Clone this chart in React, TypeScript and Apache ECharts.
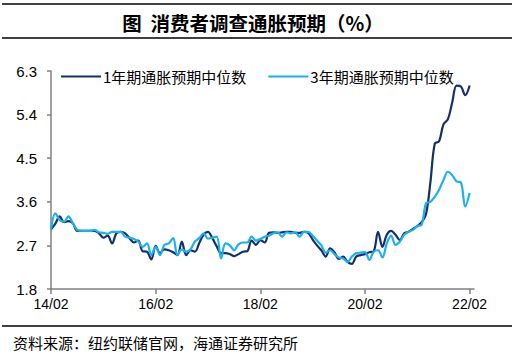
import React, { useEffect, useRef } from "react";
import * as echarts from "echarts";

const title = "图  消费者调查通胀预期（%）";
const source = "资料来源：纽约联储官网，海通证券研究所";
const seriesNames = ["1年期通胀预期中位数", "3年期通胀预期中位数"];

// monthly categories 2014/02 .. 2022/03 (last has no data)
const categories: string[] = [];
for (let y = 14; y <= 22; y++) {
  for (let m = 1; m <= 12; m++) {
    if (y === 14 && m < 2) continue;
    if (y === 22 && m > 3) continue;
    categories.push(`${y}/${String(m).padStart(2, "0")}`);
  }
}

const oneYear = [
  3.03, 3.15, 3.3, 3.18, 3.2, 3.16, 3.0, 3.0, 3.0, 3.0, 3.0, 2.95,
  2.86, 2.9, 2.74, 2.95, 2.98, 2.95, 2.85, 2.76, 2.8, 2.58, 2.57, 2.41,
  2.69, 2.54, 2.62, 2.6, 2.56, 2.5, 2.78, 2.5, 2.6, 2.57, 2.75, 2.92,
  2.98, 2.85, 2.68, 2.54, 2.54, 2.52, 2.48, 2.52, 2.57, 2.58, 2.8, 2.71,
  2.81, 2.76, 2.96, 2.97, 2.96, 2.97, 2.98, 2.98, 2.96, 2.96, 2.98, 2.96,
  2.82, 2.7, 2.6, 2.47, 2.64, 2.56, 2.42, 2.47, 2.36, 2.32, 2.47, 2.5,
  2.52, 2.56, 2.58, 2.98, 2.67, 2.92, 3.0, 2.92, 2.81, 2.95, 2.98, 3.04,
  3.1, 3.18, 3.35, 4.0, 4.8, 4.85, 5.2, 5.3, 5.65, 6.0, 5.98, 5.8,
  6.0,
];

const threeYear = [
  3.03, 3.36, 3.22, 3.19, 3.3, 3.16, 3.02, 3.0, 3.0, 3.0, 3.02, 2.97,
  2.96, 2.94, 2.98, 2.98, 2.98, 2.88, 2.86, 2.83, 2.78, 2.67, 2.74, 2.5,
  2.67, 2.5, 2.71, 2.74, 2.85, 2.5, 2.62, 2.57, 2.62, 2.78, 2.85, 2.95,
  2.84, 2.86, 2.88, 2.43, 2.74, 2.7, 2.6, 2.72, 2.76, 2.76, 2.88, 2.8,
  2.83, 2.88, 2.9, 2.95, 2.97, 2.88, 2.97, 2.95, 2.97, 2.88, 2.98, 2.98,
  2.9, 2.8, 2.7, 2.55, 2.6, 2.52, 2.45, 2.43, 2.36, 2.47, 2.54, 2.55,
  2.56, 2.4, 2.57, 2.6, 2.45, 2.74, 2.9, 2.71, 2.78, 2.92, 2.98, 3.02,
  3.1, 3.13, 3.57, 3.6, 3.7, 3.85, 4.05, 4.22, 4.15, 4.02, 4.0, 3.5,
  3.78,
];

const yMin = 1.8;
const yMax = 6.3;
const yStep = 0.9;

const font = "'Liberation Sans', Arial, 'Noto Sans CJK SC', sans-serif";
const cjk = "'Noto Sans CJK SC', sans-serif";

export default function App() {
  const ref = useRef<HTMLDivElement>(null);
  useEffect(() => {
    if (!ref.current) return;
    const chart = echarts.init(ref.current, null, { renderer: "svg" });
    chart.setOption({
      animation: false,
      backgroundColor: "#ffffff",
      grid: { left: 51, right: 42, top: 71, bottom: 70 },
      legend: {
        left: 56,
        top: 64,
        icon: "rect",
        itemWidth: 40,
        itemHeight: 2,
        itemGap: 22,
        textStyle: { fontSize: 15, color: "#000", fontFamily: cjk, padding: [0, 0, 0, -3] },
        data: seriesNames,
      },
      xAxis: {
        type: "category",
        data: categories,
        boundaryGap: false,
        axisLine: { lineStyle: { color: "#808080", width: 1.5 } },
        axisTick: { interval: 23, length: 5, lineStyle: { color: "#808080", width: 1.5 } },
        axisLabel: {
          interval: 23,
          color: "#000",
          fontSize: 14,
          fontFamily: font,
          margin: 8,
          formatter: (v: string) => v,
        },
        splitLine: { show: false },
      },
      yAxis: {
        type: "value",
        min: yMin,
        max: yMax,
        interval: yStep,
        axisLine: { show: true, lineStyle: { color: "#808080", width: 1.5 } },
        axisTick: { show: true, length: 4, lineStyle: { color: "#808080", width: 1.5 } },
        axisLabel: {
          color: "#000",
          fontSize: 15,
          fontFamily: font,
          margin: 14,
          formatter: (v: number) => v.toFixed(1),
        },
        splitLine: { show: false },
      },
      series: [
        {
          name: seriesNames[0],
          type: "line",
          data: oneYear,
          smooth: 0.35,
          showSymbol: false,
          symbol: "none",
          lineStyle: { color: "#13306B", width: 2.2 },
          itemStyle: { color: "#13306B" },
          z: 3,
        },
        {
          name: seriesNames[1],
          type: "line",
          data: threeYear,
          smooth: 0.35,
          showSymbol: false,
          symbol: "none",
          lineStyle: { color: "#1BB0EE", width: 2.2 },
          itemStyle: { color: "#1BB0EE" },
          z: 4,
        },
      ],
      graphic: [
        { type: "line", shape: { x1: 2, y1: 4, x2: 512, y2: 4 }, style: { stroke: "#000", lineWidth: 1.5 } },
        { type: "line", shape: { x1: 2, y1: 38, x2: 512, y2: 38 }, style: { stroke: "#000", lineWidth: 1.5 } },
        { type: "line", shape: { x1: 2, y1: 326, x2: 512, y2: 326 }, style: { stroke: "#000", lineWidth: 1.5 } },
        {
          type: "text",
          x: 253,
          y: 22,
          style: {
            text: title,
            fontSize: 19.5,
            fontWeight: "bold",
            fontFamily: cjk,
            fill: "#000",
            align: "center",
            verticalAlign: "middle",
          },
        },
        {
          type: "text",
          x: 13,
          y: 342,
          style: {
            text: source,
            fontSize: 15,
            fontFamily: cjk,
            fill: "#000",
            align: "left",
            verticalAlign: "middle",
          },
        },
      ],
    });
    return () => chart.dispose();
  }, []);
  return <div ref={ref} style={{ width: 516, height: 359, position: "absolute", left: 0, top: 0 }} />;
}
